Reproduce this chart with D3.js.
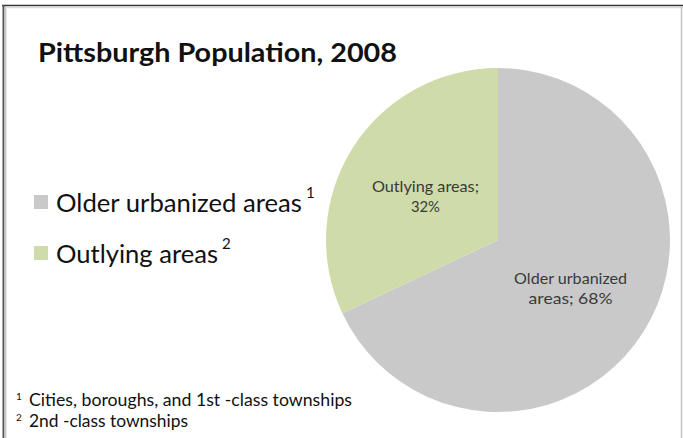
<!DOCTYPE html>
<html>
<head>
<meta charset="utf-8">
<script src="https://cdn.jsdelivr.net/npm/d3@7"></script>
<style>
  html, body { margin: 0; padding: 0; background: #fff; }
  svg { display: block; }
  text { font-family: Lato, "Open Sans", sans-serif; }
</style>
</head>
<body>
<svg id="chart" width="683" height="438"></svg>
<script>
// Pittsburgh population split, 2008
const categories = ["Older urbanized areas", "Outlying areas"];
const shares = [68, 32];
const footnoteMarks = ["1", "2"];
const sliceLabels = [["Older urbanized", "areas; 68%"], ["Outlying areas;", "32%"]];
const footnotes = ["Cities, boroughs, and 1st -class townships", "2nd -class townships"];
const colors = ["#c9c9c9", "#cfdcaa"];

const svg = d3.select("#chart");
const W = 683, H = 438;

// Frame
svg.append("rect").attr("x", 0).attr("y", 0).attr("width", W).attr("height", H).attr("fill", "#fff");
svg.append("line").attr("x1", 2).attr("x2", W).attr("y1", 5.5).attr("y2", 5.5)
  .attr("stroke", "#333").attr("stroke-width", 1.5);
svg.append("line").attr("x1", 3.5).attr("x2", 3.5).attr("y1", 5).attr("y2", H)
  .attr("stroke", "#555").attr("stroke-width", 2);
svg.append("line").attr("x1", 5.5).attr("x2", 5.5).attr("y1", 7).attr("y2", H)
  .attr("stroke", "#ccc").attr("stroke-width", 2);
svg.append("line").attr("x1", 7).attr("x2", W).attr("y1", 7.5).attr("y2", 7.5)
  .attr("stroke", "#ddd").attr("stroke-width", 1.5);
svg.append("line").attr("x1", 681.5).attr("x2", 681.5).attr("y1", 6).attr("y2", H)
  .attr("stroke", "#c4c4c4").attr("stroke-width", 1.5);

// Title
svg.append("text").attr("x", 38).attr("y", 62)
  .attr("font-size", 26).attr("font-weight", "bold").attr("fill", "#111")
  .attr("textLength", 359).attr("lengthAdjust", "spacingAndGlyphs")
  .text("Pittsburgh Population, 2008");

// Pie
const cx = 498, cy = 240, r = 172;
const pie = d3.pie().sort(null).value(d => d)(shares);
const arc = d3.arc().innerRadius(0).outerRadius(r);
const g = svg.append("g").attr("transform", `translate(${cx},${cy})`);
g.selectAll("path").data(pie).join("path")
  .attr("d", arc).attr("fill", (d, i) => colors[i]);

// Slice labels, two lines each, around the arc centroid
const labelWidths = [[113, 84], [107, 29]];
const labelArc = d3.arc().innerRadius(r * 0.5).outerRadius(r * 0.5);
g.selectAll("text.slice").data(pie).join("text")
  .attr("class", "slice")
  .attr("text-anchor", "middle")
  .attr("font-size", 15).attr("fill", "#3a3a3a")
  .attr("transform", d => {
    const [x, y] = labelArc.centroid(d);
    return `translate(${x},${y})`;
  })
  .each(function(d, i) {
    const t = d3.select(this);
    sliceLabels[i].forEach((line, k) => {
      t.append("tspan").attr("x", 0).attr("y", k === 0 ? -2 : 18)
        .attr("textLength", labelWidths[i][k]).attr("lengthAdjust", "spacingAndGlyphs")
        .text(line);
    });
  });

// Legend
const legendWidths = [246, 162];
const legend = svg.append("g");
categories.forEach((c, i) => {
  const y = 212 + i * 51;
  legend.append("rect").attr("x", 34).attr("y", y - 17).attr("width", 14).attr("height", 14)
    .attr("fill", colors[i]);
  legend.append("text").attr("x", 56).attr("y", y)
    .attr("font-size", 25).attr("fill", "#111")
    .attr("textLength", legendWidths[i]).attr("lengthAdjust", "spacingAndGlyphs")
    .text(c);
  legend.append("text").attr("x", 56 + legendWidths[i] + 4).attr("y", y - 14)
    .attr("font-size", 15).attr("fill", "#111").text(footnoteMarks[i]);
});

// Footnotes
const footWidths = [323, 159];
footnotes.forEach((f, i) => {
  const y = 406 + i * 21;
  svg.append("text").attr("x", 16).attr("y", y - 6)
    .attr("font-size", 10).attr("fill", "#111").text(footnoteMarks[i]);
  svg.append("text").attr("x", 29).attr("y", y).attr("font-size", 17).attr("fill", "#111")
    .attr("textLength", footWidths[i]).attr("lengthAdjust", "spacingAndGlyphs")
    .text(f);
});
</script>
</body>
</html>
